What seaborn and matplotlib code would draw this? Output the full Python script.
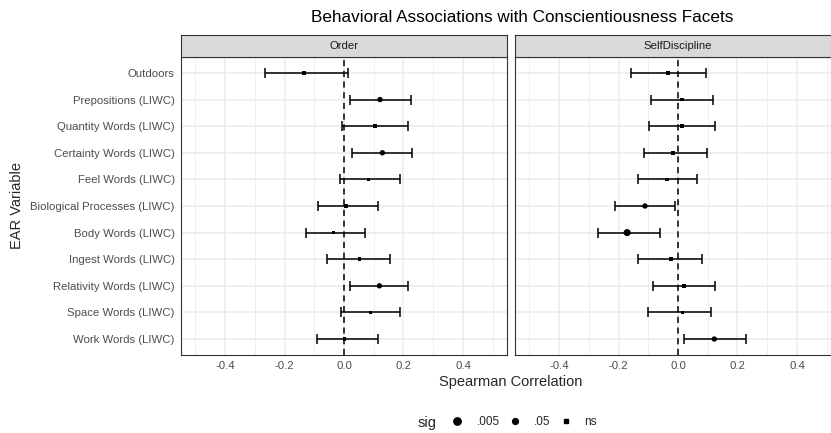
import numpy as np
import pandas as pd
import matplotlib
matplotlib.use("Agg")
import matplotlib.pyplot as plt
from matplotlib.lines import Line2D
import seaborn as sns

variables = ["Outdoors", "Prepositions (LIWC)", "Quantity Words (LIWC)", "Certainty Words (LIWC)",
             "Feel Words (LIWC)", "Biological Processes (LIWC)", "Body Words (LIWC)",
             "Ingest Words (LIWC)", "Relativity Words (LIWC)", "Space Words (LIWC)", "Work Words (LIWC)"]
facets = ["Order", "SelfDiscipline"]

order_r = [-0.135, 0.121, 0.104, 0.129, 0.082, 0.006, -0.035, 0.052, 0.119, 0.089, 0.002]
order_lo = [-0.266, 0.021, -0.007, 0.026, -0.012, -0.088, -0.128, -0.057, 0.020, -0.010, -0.090]
order_hi = [0.012, 0.226, 0.216, 0.227, 0.187, 0.113, 0.069, 0.156, 0.216, 0.188, 0.113]
order_sig = ["ns", ".05", "ns", ".05", "ns", "ns", "ns", "ns", ".05", "ns", "ns"]

sd_r = [-0.034, 0.013, 0.013, -0.017, -0.038, -0.111, -0.171, -0.024, 0.020, 0.015, 0.122]
sd_lo = [-0.158, -0.090, -0.097, -0.115, -0.133, -0.211, -0.270, -0.134, -0.085, -0.102, 0.020]
sd_hi = [0.094, 0.118, 0.125, 0.098, 0.065, -0.011, -0.060, 0.080, 0.124, 0.112, 0.227]
sd_sig = ["ns", "ns", "ns", "ns", "ns", ".05", ".005", "ns", "ns", "ns", ".05"]

sig_levels = [".005", ".05", "ns"]

df = pd.concat([
    pd.DataFrame({"var": variables, "r": order_r, "lo": order_lo, "hi": order_hi, "sig": order_sig, "facet": "Order"}),
    pd.DataFrame({"var": variables, "r": sd_r, "lo": sd_lo, "hi": sd_hi, "sig": sd_sig, "facet": "SelfDiscipline"}),
], ignore_index=True)

sns.set_theme(style="white")
plt.rcParams["font.family"] = ["Liberation Sans", "DejaVu Sans"]

W, H = 831, 433
fig = plt.figure(figsize=(W / 100, H / 100), dpi=100)

def px_axes(x0, y0, x1, y1):
    return fig.add_axes([x0 / W, 1 - y1 / H, (x1 - x0) / W, (y1 - y0) / H])

panels = [(181, 507), (515, 841)]
top, strip_top, bottom = 57, 35, 355
markers = {".005": "o", ".05": "o", "ns": "s"}
sizes = {".005": 26, ".05": 15, "ns": 7}
tick_col = "#4D4D4D"

ypos = {v: i for i, v in enumerate(variables)}
for k, (facet, (x0, x1)) in enumerate(zip(facets, panels)):
    ax = px_axes(x0, top, x1, bottom)
    sub = df[df["facet"] == facet].copy()
    sub["y"] = sub["var"].map(ypos)
    ax.set_xlim(-0.548, 0.548)
    ax.set_ylim(len(variables) - 1 + 0.6, -0.6)
    ax.set_xticks([-0.4, -0.2, 0.0, 0.2, 0.4])
    ax.set_xticks([-0.5, -0.3, -0.1, 0.1, 0.3, 0.5], minor=True)
    ax.set_yticks(range(len(variables)))
    ax.grid(which="major", color="#EBEBEB", lw=1.1)
    ax.grid(which="minor", axis="x", color="#EBEBEB", lw=0.55)
    ax.set_axisbelow(True)
    ax.errorbar(sub["r"], sub["y"], xerr=[sub["r"] - sub["lo"], sub["hi"] - sub["r"]],
                fmt="none", ecolor="black", elinewidth=1.1, capsize=3.3, capthick=1.1, zorder=2)
    ax.axvline(0, color="black", ls=(0, (4, 3)), lw=1.1, zorder=3)
    sns.scatterplot(data=sub, x="r", y="y", style="sig", size="sig", markers=markers, sizes=sizes,
                    style_order=sig_levels, size_order=sig_levels, color="black", edgecolor="black",
                    linewidth=0, ax=ax, legend=False, zorder=4)
    ax.set_xlabel("")
    ax.set_ylabel("")
    ax.set_xticklabels(["-0.4", "-0.2", "0.0", "0.2", "0.4"], color=tick_col, fontsize=8.2)
    if k == 0:
        ax.set_yticklabels(variables, color=tick_col, fontsize=8.2)
    else:
        ax.set_yticklabels([])
    ax.tick_params(axis="both", which="major", length=2.5, width=0.8, color="#333333", pad=2)
    ax.tick_params(axis="x", which="minor", length=0)
    if k == 1:
        ax.tick_params(axis="y", length=0)
    for s in ax.spines.values():
        s.set_color("#333333")
        s.set_linewidth(0.8)
    sax = px_axes(x0, strip_top, x1, top)
    sax.set_facecolor("#D9D9D9")
    sax.set_xticks([]); sax.set_yticks([])
    for s in sax.spines.values():
        s.set_color("#333333")
        s.set_linewidth(0.8)
    sax.text(0.5, 0.5, facet, ha="center", va="center", fontsize=8.2, color="#1A1A1A", transform=sax.transAxes)

fig.text(522 / W, 1 - 18 / H, "Behavioral Associations with Conscientiousness Facets", ha="center", va="center",
         fontsize=12.3, color="black")
fig.text(511 / W, 1 - 382 / H, "Spearman Correlation", ha="center", va="center", fontsize=10.5)
fig.text(17 / W, 1 - 206 / H, "EAR Variable", ha="center", va="center", fontsize=10.5, rotation=90)

fig.text(427 / W, 1 - 423 / H, "sig", ha="center", va="center", fontsize=10.5)
leg_ms = {".005": 5.3, ".05": 4.2, "ns": 3.0}
handles = [Line2D([], [], ls="none", marker=markers[s], color="black", markersize=leg_ms[s])
           for s in sig_levels]
fig.legend(handles, sig_levels, loc="center left", bbox_to_anchor=(451 / W, 1 - 422 / H),
           ncol=3, frameon=False, fontsize=8.5, handletextpad=1.05, borderpad=0, borderaxespad=0,
           columnspacing=0.75, handlelength=1.1)

fig.savefig("out.png", dpi=100)
